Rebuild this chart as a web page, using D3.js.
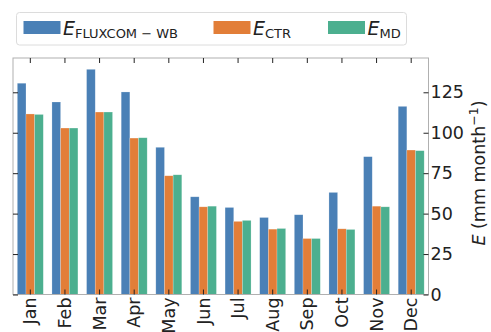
<!DOCTYPE html>
<html><head><meta charset="utf-8">
<script src="https://cdn.jsdelivr.net/npm/d3@7"></script>
<style>body{margin:0;background:#fff}svg{display:block}text{font-family:"DejaVu Sans",sans-serif}</style>
</head><body>
<svg id="c" width="491" height="332"></svg>
<script>
const months = ["Jan","Feb","Mar","Apr","May","Jun","Jul","Aug","Sep","Oct","Nov","Dec"];
const fluxcom = [130.6,119.0,139.2,125.2,91.0,60.4,53.8,47.6,49.3,63.1,85.2,116.3];
const ctr = [111.6,102.9,112.8,96.7,73.4,54.2,45.2,40.4,34.6,40.6,54.6,89.3];
const md = [111.3,102.9,112.8,96.9,74.0,54.6,45.8,40.8,34.6,40.2,54.2,88.9];
const yTicks = [0,25,50,75,100,125];
const seriesNames = ["FLUXCOM − WB","CTR","MD"];
const colors = ["#4a80b6","#e27e38","#4caf8f"];

const svg = d3.select("#c");
const L=13, R=428.5, T=58, B=294.5;
const x = d3.scaleBand().domain(months).range([L,R]).padding(0);
const y = d3.scaleLinear().domain([0,146.2]).range([B,T]);
const sub = d3.scaleBand().domain([0,1,2]).range([0, x.bandwidth()*0.75]);
const series=[fluxcom,ctr,md];

const g = svg.append("g");
series.forEach((vals,si)=>{
  g.selectAll(null).data(months).enter().append("rect")
    .attr("x",d=>x(d)+x.bandwidth()*0.125+sub(si))
    .attr("y",(d,i)=>y(vals[i]))
    .attr("width",sub.bandwidth())
    .attr("height",(d,i)=>B-y(vals[i]))
    .attr("fill",colors[si])
    .attr("stroke","rgba(255,255,255,0.35)").attr("stroke-width",0.6);
});

// frame
svg.append("rect").attr("x",L).attr("y",T).attr("width",R-L).attr("height",B-T)
  .attr("fill","none").attr("stroke","#b0b0b0").attr("stroke-width",1);

// bottom axis
const xb = svg.append("g").attr("transform",`translate(0,${B})`)
  .call(d3.axisBottom(x).tickSize(-5).tickPadding(0));
xb.select(".domain").remove();
xb.selectAll(".tick line").attr("stroke","#222");
xb.selectAll(".tick text").attr("font-size",17.5).attr("fill","#222")
  .attr("transform","rotate(-90)").attr("text-anchor","end")
  .attr("x",-3).attr("y",0).attr("dy","0.35em");
// top ticks
const xt = svg.append("g").attr("transform",`translate(0,${T})`)
  .call(d3.axisTop(x).tickSize(-5).tickFormat(""));
xt.select(".domain").remove();
xt.selectAll(".tick line").attr("stroke","#222");
// right axis
const yr = svg.append("g").attr("transform",`translate(${R},0)`)
  .call(d3.axisRight(y).tickValues(yTicks).tickSize(-5).tickPadding(3));
yr.select(".domain").remove();
yr.selectAll(".tick line").attr("stroke","#222");
yr.selectAll(".tick text").attr("font-size",17.5).attr("fill","#222").attr("x",2);
// left ticks
const yl = svg.append("g").attr("transform",`translate(${L},0)`)
  .call(d3.axisLeft(y).tickValues(yTicks).tickSize(-5).tickFormat(""));
yl.select(".domain").remove();
yl.selectAll(".tick line").attr("stroke","#222");

// y label
const yl2 = svg.append("text").attr("transform","translate(485,173) rotate(-90)")
  .attr("text-anchor","middle").attr("font-size",17.5).attr("fill","#222");
yl2.append("tspan").attr("font-style","italic").text("E");
yl2.append("tspan").text(" (mm month");
yl2.append("tspan").attr("dy",-7).attr("font-size",12.5).text("−1");
yl2.append("tspan").attr("dy",7).text(")");

// legend
const lg = svg.append("g");
lg.append("rect").attr("x",16.5).attr("y",12.5).attr("width",390).attr("height",32.5).attr("rx",3)
  .attr("fill","#fff").attr("stroke","#dcdcdc");
const lx=[23.5,213.5,328];
seriesNames.forEach((n,i)=>{
  lg.append("rect").attr("x",lx[i]).attr("y",21).attr("width",37).attr("height",13).attr("fill",colors[i]);
  const t = lg.append("text").attr("x",lx[i]+39.5).attr("y",34.5).attr("fill","#222");
  t.append("tspan").attr("font-style","italic").attr("font-size",19).text("E");
  t.append("tspan").attr("font-size",13).attr("dy",3).text(n);
});
</script>
</body></html>
